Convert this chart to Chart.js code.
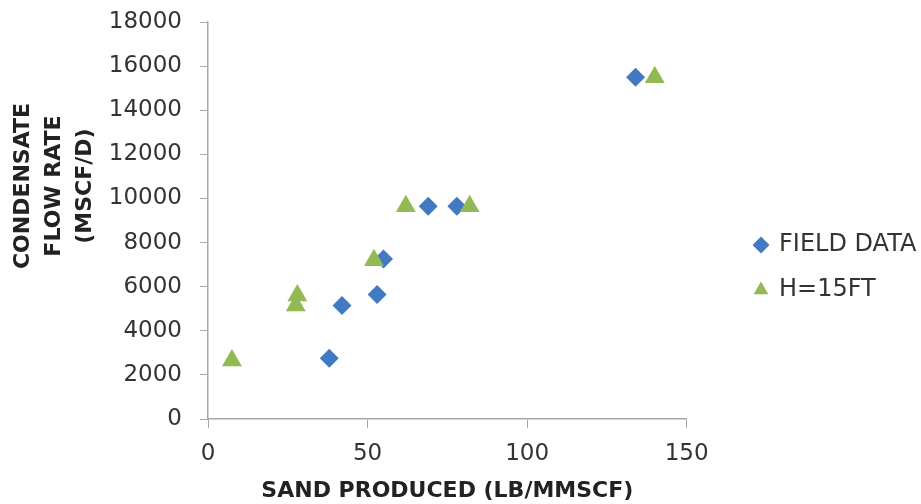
<!DOCTYPE html>
<html>
<head>
<meta charset="utf-8">
<script src="https://cdn.jsdelivr.net/npm/chart.js@4"></script>
<style>
html,body{margin:0;padding:0;background:#fff;}
#wrap{width:921px;height:504px;position:relative;}
</style>
</head>
<body>
<div id="wrap"><canvas id="c" width="921" height="504"></canvas></div>
<script>
// ---- data ----
const seriesNames = ["FIELD DATA", "H=15FT"];
const fieldSand = [38, 42, 53, 55, 69, 78, 134];
const fieldRate = [2750, 5150, 5650, 7250, 9650, 9650, 15500];
const h15Sand = [7.5, 27.5, 28, 52, 62, 82, 140];
const h15Rate = [2650, 5150, 5600, 7200, 9650, 9650, 15500];
const xTicks = [0, 50, 100, 150];
const yTicks = [0, 2000, 4000, 6000, 8000, 10000, 12000, 14000, 16000, 18000];
const xTitle = "SAND PRODUCED (LB/MMSCF)";
const yTitle = ["CONDENSATE", "FLOW RATE", "(MSCF/D)"];

const toPts = (xs, ys) => xs.map((x, i) => ({x: x, y: ys[i]}));

const BLUE = '#4279C3';
const GREEN = '#93B954';
const AXIS = '#A8A8A8';
const TXT = '#333333';

// shift the legend (built-in) to the reference position after layout
const legendPlace = {
  id: 'legendPlace',
  afterLayout(chart) {
    const lg = chart.legend;
    if (!lg) return;
    const dx = 734 - lg.left;
    const dy = 16 - lg.top;
    lg.left += dx; lg.right += dx;
    lg.top += dy; lg.bottom += dy;
  }
};

const pad = ' '.repeat(9);

new Chart(document.getElementById('c'), {
  type: 'scatter',
  data: {
    datasets: [
      {
        label: seriesNames[0],
        data: toPts(fieldSand, fieldRate),
        pointStyle: 'rectRot',
        pointRadius: 9.5,
        pointHoverRadius: 9.5,
        backgroundColor: BLUE,
        borderColor: BLUE,
        borderWidth: 0,
        order: 1
      },
      {
        label: seriesNames[1],
        data: toPts(h15Sand, h15Rate),
        pointStyle: 'triangle',
        pointRadius: 11.5,
        pointHoverRadius: 11.5,
        backgroundColor: GREEN,
        borderColor: GREEN,
        borderWidth: 0,
        order: 0
      }
    ]
  },
  options: {
    responsive: false,
    animation: false,
    events: [],
    layout: {padding: {left: 0, top: 1, right: 42, bottom: 0}},
    plugins: {
      tooltip: {enabled: false},
      legend: {
        position: 'right',
        labels: {
          usePointStyle: true,
          boxWidth: 12,
          boxHeight: 12,
          padding: 21,
          color: TXT,
          font: {family: 'DejaVu Sans', size: 24},
          sort: (a, b) => a.datasetIndex - b.datasetIndex
        }
      }
    },
    scales: {
      x: {
        type: 'linear',
        min: xTicks[0],
        max: xTicks[xTicks.length - 1],
        afterBuildTicks: (s) => { s.ticks = xTicks.map(v => ({value: v})); },
        afterFit: (s) => { s.height = 85; },
        grid: {display: true, drawOnChartArea: false, drawTicks: true, tickLength: 9, color: AXIS},
        border: {display: true, color: AXIS, width: 1.5},
        ticks: {color: TXT, padding: 12, font: {family: 'DejaVu Sans', size: 23},
                callback: (v) => String(v)},
        title: {
          display: true,
          text: xTitle,
          color: '#222',
          font: {family: 'DejaVu Sans', size: 22, weight: 'bold'},
          padding: {top: 0, bottom: 0}
        }
      },
      y: {
        type: 'linear',
        min: yTicks[0],
        max: yTicks[yTicks.length - 1],
        afterBuildTicks: (s) => { s.ticks = yTicks.map(v => ({value: v})); },
        afterFit: (s) => { s.paddingTop = 22; s.width = 208; },
        grid: {display: true, drawOnChartArea: false, drawTicks: true, tickLength: 8, color: AXIS},
        border: {display: true, color: AXIS, width: 1.5},
        ticks: {color: TXT, padding: 18, font: {family: 'DejaVu Sans', size: 23},
                callback: (v) => String(v)},
        title: {
          display: true,
          text: yTitle.map(s => pad + s),
          color: '#222',
          font: {family: 'DejaVu Sans', size: 22, weight: 'bold', lineHeight: 1.41},
          padding: {top: 8, bottom: 5}
        }
      }
    }
  },
  plugins: [legendPlace]
});
</script>
</body>
</html>
